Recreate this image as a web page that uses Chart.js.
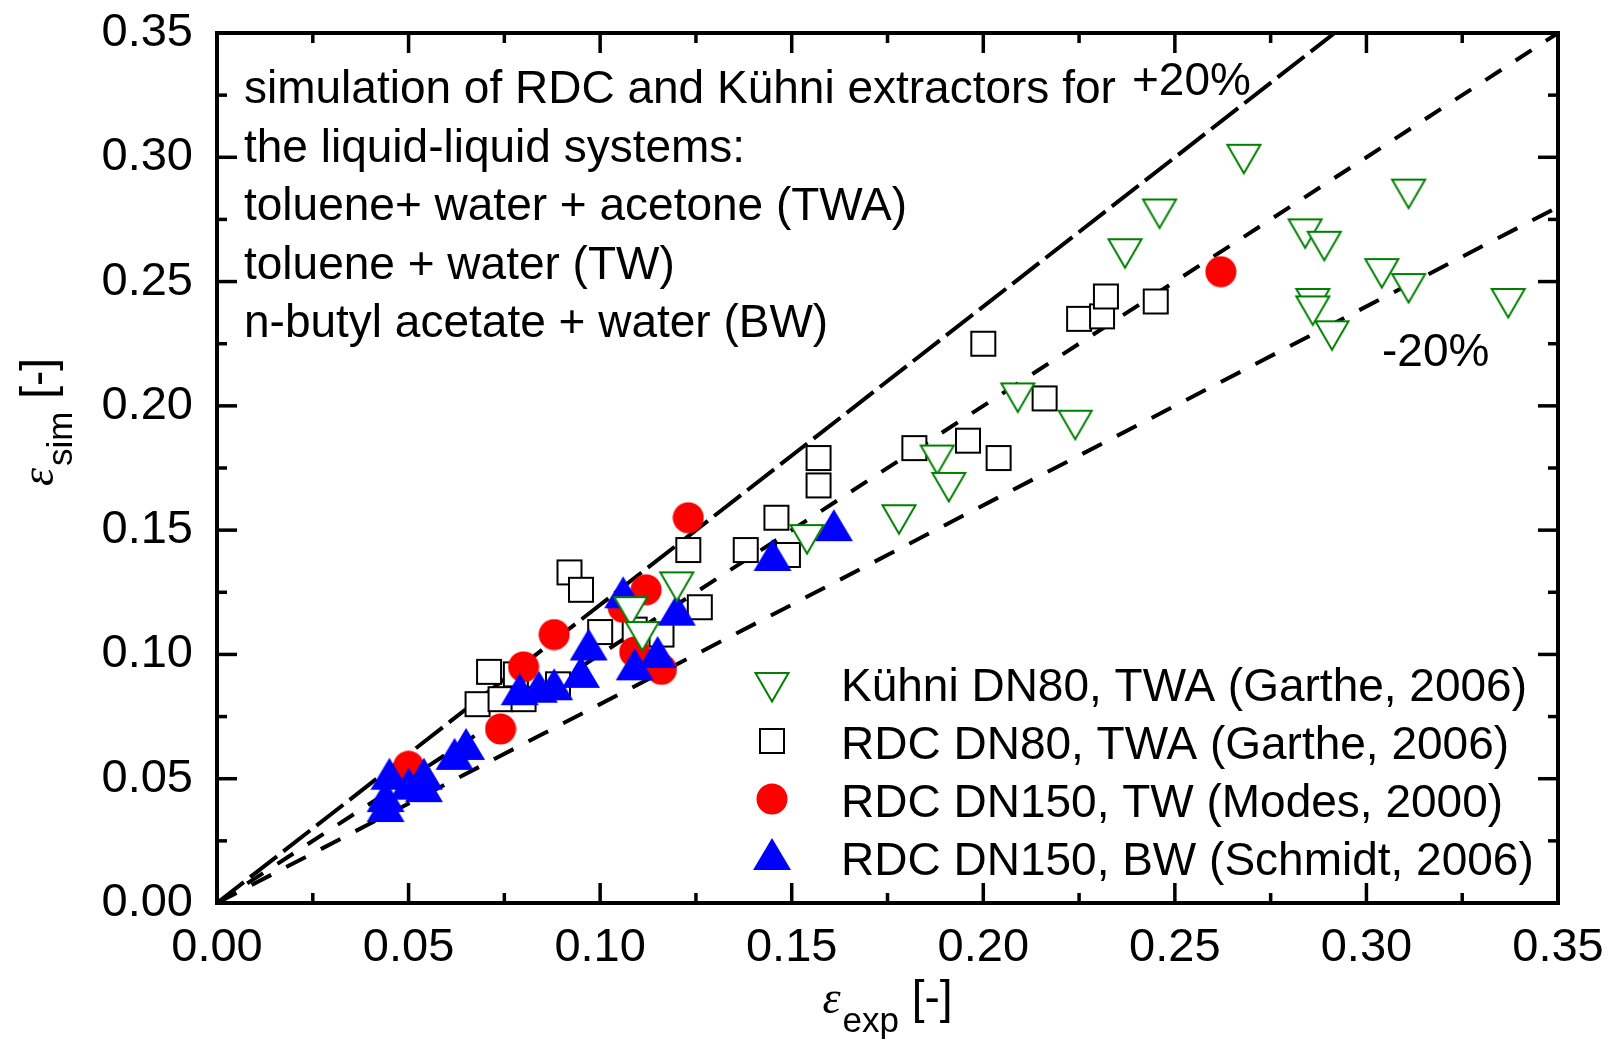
<!DOCTYPE html>
<html lang="en">
<head>
<meta charset="UTF-8">
<title>Simulated vs experimental hold-up</title>
<script src="https://cdn.jsdelivr.net/npm/chart.js@4.4.1/dist/chart.umd.min.js"></script>
<style>
  html, body { margin: 0; padding: 0; background: #fff; }
  #wrap { width: 1613px; height: 1048px; }
</style>
</head>
<body>
<div id="wrap"><canvas id="chart" width="1613" height="1048"></canvas></div>
<script>
// values (x = eps_exp, y = eps_sim)
const kuhniX = [0.108, 0.111, 0.120, 0.154, 0.178, 0.188, 0.191, 0.209, 0.224, 0.237, 0.246,
                0.268, 0.284, 0.286, 0.286, 0.289, 0.291, 0.304, 0.311, 0.311, 0.337];
const kuhniY = [0.117, 0.107, 0.127, 0.146, 0.154, 0.178, 0.167, 0.203, 0.192, 0.261, 0.277,
                0.299, 0.269, 0.241, 0.238, 0.264, 0.228, 0.253, 0.285, 0.247, 0.241];

const rdc80X = [0.068, 0.071, 0.074, 0.078, 0.080, 0.089, 0.092, 0.095, 0.100, 0.109, 0.116,
                0.123, 0.126, 0.138, 0.146, 0.149, 0.157, 0.157, 0.182, 0.196, 0.204, 0.200,
                0.216, 0.225, 0.231, 0.232, 0.245];
const rdc80Y = [0.080, 0.093, 0.082, 0.092, 0.082, 0.088, 0.133, 0.126, 0.109, 0.110, 0.108,
                0.142, 0.119, 0.142, 0.155, 0.140, 0.168, 0.179, 0.183, 0.186, 0.179, 0.225,
                0.203, 0.235, 0.236, 0.244, 0.242];

const tw150X = [0.050, 0.074, 0.080, 0.088, 0.106, 0.109, 0.112, 0.116, 0.123, 0.262];
const tw150Y = [0.055, 0.070, 0.095, 0.108, 0.119, 0.101, 0.126, 0.094, 0.155, 0.254];

const bw150X = [0.044, 0.044, 0.045, 0.050, 0.054, 0.054, 0.062, 0.065, 0.079, 0.084, 0.088,
                0.095, 0.097, 0.106, 0.109, 0.115, 0.120, 0.145, 0.161];
const bw150Y = [0.039, 0.043, 0.052, 0.048, 0.052, 0.047, 0.060, 0.064, 0.086, 0.087, 0.088,
                0.093, 0.104, 0.125, 0.096, 0.101, 0.118, 0.140, 0.152];

// reference lines (+20 %, parity, -20 %)
const plusLine = [[0, 0], [0.2917, 0.35]];
const parityLine = [[0, 0], [0.35, 0.35]];
const minusLine = [[0, 0], [0.35, 0.28]];

const majorTicks = [0, 0.05, 0.10, 0.15, 0.20, 0.25, 0.30, 0.35];
const minorTicks = [0.025, 0.075, 0.125, 0.175, 0.225, 0.275, 0.325];

const legendLabels = [
  'Kühni DN80, TWA (Garthe, 2006)',
  'RDC DN80, TWA (Garthe, 2006)',
  'RDC DN150, TW (Modes, 2000)',
  'RDC DN150, BW (Schmidt, 2006)'
];
const noteLines = [
  'simulation of RDC and Kühni extractors for',
  'the liquid-liquid systems:',
  'toluene+ water + acetone (TWA)',
  'toluene + water (TW)',
  'n-butyl acetate + water (BW)'
];

const SANS = "'Liberation Sans', Arial, sans-serif";
const SERIF = "'Liberation Serif', 'Times New Roman', serif";

function pts(xs, ys) { return xs.map((v, i) => ({x: v, y: ys[i]})); }
function linePts(arr) { return arr.map(p => ({x: p[0], y: p[1]})); }

// marker glyphs, centred on their bounding box like the original plot
function marker(kind) {
  const c = document.createElement('canvas');
  const g = c.getContext('2d');
  if (kind === 'down') {
    c.width = 40; c.height = 36;
    g.beginPath(); g.moveTo(3.5, 3); g.lineTo(36.5, 3); g.lineTo(20, 31.5); g.closePath();
    g.fillStyle = '#fff'; g.fill();
    g.lineWidth = 2; g.strokeStyle = '#008000'; g.stroke();
  } else if (kind === 'square') {
    c.width = 30; c.height = 30;
    g.fillStyle = '#fff'; g.fillRect(3, 3, 24, 24);
    g.lineWidth = 2; g.strokeStyle = '#000'; g.strokeRect(3, 3, 24, 24);
  } else if (kind === 'circle') {
    c.width = 32; c.height = 32;
    g.beginPath(); g.arc(16, 16, 15.5, 0, Math.PI * 2);
    g.fillStyle = '#ff0000'; g.fill();
  } else {
    c.width = 40; c.height = 34;
    g.beginPath(); g.moveTo(20, 1); g.lineTo(39, 33); g.lineTo(1, 33); g.closePath();
    g.fillStyle = '#0000ff'; g.fill();
  }
  return c;
}
const mDown = marker('down'), mSquare = marker('square'), mCircle = marker('circle'), mUp = marker('up');

function refLine(data, dash, order) {
  return {
    type: 'line', data: linePts(data), showLine: true, pointRadius: 0,
    borderColor: '#000', borderWidth: 4, borderDash: dash, fill: false, order: order
  };
}

// frame with inward ticks on all four sides
const frameTicks = {
  id: 'frameTicks',
  afterDatasetsDraw(chart) {
    const {ctx, chartArea: a, scales: {x, y}} = chart;
    ctx.save();
    ctx.strokeStyle = '#000';
    ctx.lineWidth = 3.5;
    const seg = (x1, y1, x2, y2) => { ctx.beginPath(); ctx.moveTo(x1, y1); ctx.lineTo(x2, y2); ctx.stroke(); };
    const draw = (vals, len) => {
      vals.forEach(v => {
        const px = x.getPixelForValue(v);
        seg(px, a.bottom, px, a.bottom - len);
        seg(px, a.top, px, a.top + len);
        const py = y.getPixelForValue(v);
        seg(a.left, py, a.left + len, py);
        seg(a.right, py, a.right - len, py);
      });
    };
    draw(majorTicks, 20);
    draw(minorTicks, 10);
    ctx.lineWidth = 4;
    ctx.strokeRect(a.left, a.top, a.right - a.left, a.bottom - a.top);
    ctx.restore();
  }
};

// notes, legend and axis titles
const texts = {
  id: 'texts',
  afterDraw(chart) {
    const {ctx, chartArea: a} = chart;
    ctx.save();
    ctx.fillStyle = '#000';
    ctx.textBaseline = 'alphabetic';
    ctx.textAlign = 'left';
    ctx.font = '46px ' + SANS;
    noteLines.forEach((t, i) => ctx.fillText(t, a.left + 27, a.top + 70 + 58.6 * i));
    ctx.fillText('+20%', 1132, 95);
    ctx.fillText('-20%', 1382, 366);

    // legend
    const marks = [mDown, mSquare, mCircle, mUp];
    const markY = [688, 741, 799, 854];
    const textY = [701, 759, 817, 875];
    legendLabels.forEach((t, i) => {
      const m = marks[i];
      ctx.drawImage(m, 772 - m.width / 2, markY[i] - m.height / 2);
      ctx.fillText(t, 841, textY[i]);
    });

    // axis titles: epsilon with subscript
    const title = (sub, cx, base) => {
      ctx.font = 'italic 46px ' + SERIF;
      const wE = ctx.measureText('\u03b5').width;
      ctx.font = '35px ' + SANS;
      const wS = ctx.measureText(sub).width;
      ctx.font = '46px ' + SANS;
      const wB = ctx.measureText(' [-]').width;
      let x0 = cx - (wE + 2 + wS + wB) / 2;
      ctx.font = 'italic 46px ' + SERIF;
      ctx.fillText('\u03b5', x0, base);
      x0 += wE + 2;
      ctx.font = '35px ' + SANS;
      ctx.fillText(sub, x0, base + 19);
      x0 += wS;
      ctx.font = '46px ' + SANS;
      ctx.fillText(' [-]', x0, base);
    };
    title('exp', (a.left + a.right) / 2, 1013);
    ctx.translate(53, 422);
    ctx.rotate(-Math.PI / 2);
    title('sim', 0, 0);
    ctx.restore();
  }
};

const tickFont = {family: SANS, size: 47};

new Chart(document.getElementById('chart'), {
  type: 'scatter',
  data: {
    datasets: [
      {label: legendLabels[0], data: pts(kuhniX, kuhniY), pointStyle: mDown, pointRadius: 18, order: 1},
      {label: legendLabels[1], data: pts(rdc80X, rdc80Y), pointStyle: mSquare, pointRadius: 14, order: 4},
      {label: legendLabels[2], data: pts(tw150X, tw150Y), pointStyle: mCircle, pointRadius: 16, order: 3},
      {label: legendLabels[3], data: pts(bw150X, bw150Y), pointStyle: mUp, pointRadius: 18, order: 2},
      refLine(plusLine, [34, 8], 5),
      refLine(parityLine, [19, 17], 6),
      refLine(minusLine, [22, 17], 7)
    ]
  },
  options: {
    responsive: false,
    animation: false,
    devicePixelRatio: 1,
    layout: {padding: {left: 0, top: 33, right: 55, bottom: 0}},
    plugins: {legend: {display: false}, tooltip: {enabled: false}},
    scales: {
      x: {
        type: 'linear', min: 0, max: 0.35,
        grid: {display: false, drawTicks: false},
        border: {display: false},
        afterBuildTicks: s => { s.ticks = majorTicks.map(v => ({value: v})); },
        afterFit: s => { s.height = 145; s.paddingLeft = 0; s.paddingRight = 0; },
        ticks: {font: tickFont, color: '#000', padding: 17, maxRotation: 0,
                callback: v => v.toFixed(2)}
      },
      y: {
        type: 'linear', min: 0, max: 0.35,
        grid: {display: false, drawTicks: false},
        border: {display: false},
        afterBuildTicks: s => { s.ticks = majorTicks.map(v => ({value: v})); },
        afterFit: s => { s.width = 217; s.paddingTop = 0; s.paddingBottom = 0; },
        ticks: {font: tickFont, color: '#000', padding: 24,
                callback: v => v.toFixed(2)}
      }
    }
  },
  plugins: [frameTicks, texts]
});
</script>
</body>
</html>
